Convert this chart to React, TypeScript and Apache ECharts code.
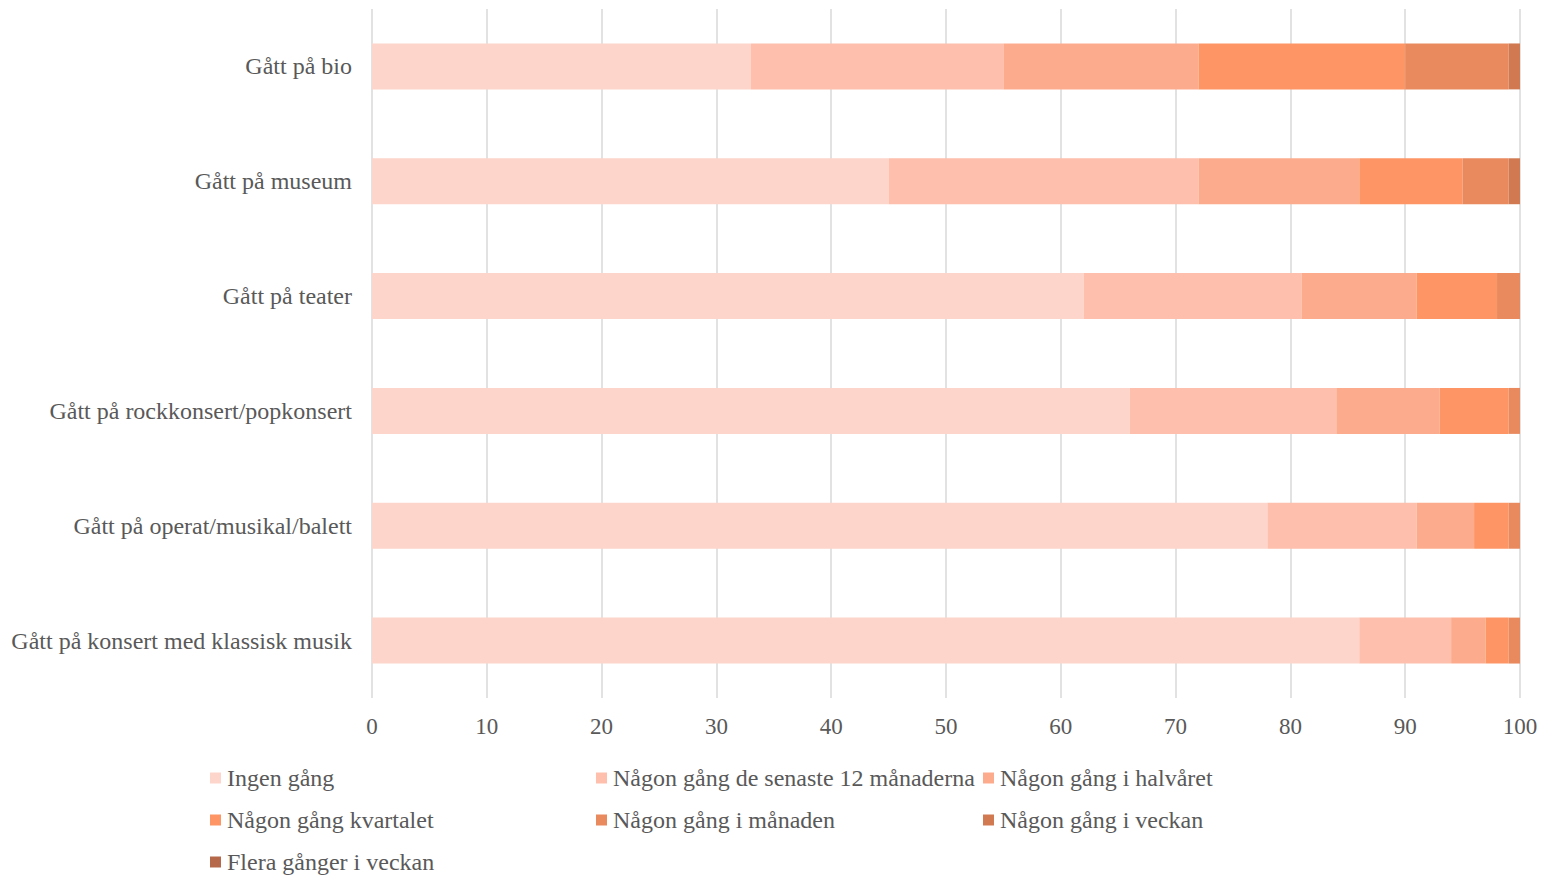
import React, { useEffect, useRef } from "react";
import * as echarts from "echarts";

const categories = [
  "Gått på bio",
  "Gått på museum",
  "Gått på teater",
  "Gått på rockkonsert/popkonsert",
  "Gått på operat/musikal/balett",
  "Gått på konsert med klassisk musik",
];

const seriesNames = [
  "Ingen gång",
  "Någon gång de senaste 12 månaderna",
  "Någon gång i halvåret",
  "Någon gång kvartalet",
  "Någon gång i månaden",
  "Någon gång i veckan",
  "Flera gånger i veckan",
];

const ingen = [33, 45, 62, 66, 78, 86];
const senaste12 = [22, 27, 19, 18, 13, 8];
const halvaret = [17, 14, 10, 9, 5, 3];
const kvartalet = [18, 9, 7, 6, 3, 2];
const manaden = [9, 4, 2, 1, 1, 1];
const veckan = [1, 1, 0, 0, 0, 0];
const flera = [0, 0, 0, 0, 0, 0];

const seriesValues = [ingen, senaste12, halvaret, kvartalet, manaden, veckan, flera];

const colors = ["#FED5CA", "#FEBFAD", "#FDAB8D", "#FD9664", "#E8895E", "#D17A52", "#B5694A"];

const xTicks = [0, 10, 20, 30, 40, 50, 60, 70, 80, 90, 100];

const legendColumns = [
  [seriesNames[0], seriesNames[3], seriesNames[6]],
  [seriesNames[1], seriesNames[4]],
  [seriesNames[2], seriesNames[5]],
];

export default function App() {
  const ref = useRef<HTMLDivElement>(null);
  useEffect(() => {
    if (!ref.current) return;
    const chart = echarts.init(ref.current, undefined, { renderer: "svg" });
    const font = "'Liberation Serif', 'Times New Roman', serif";
    const legendLefts = [210, 596, 983];
    chart.setOption({
      animation: false,
      textStyle: { fontFamily: font },
      grid: { left: 372, right: 27, top: 9, bottom: 177, containLabel: false },
      xAxis: {
        type: "value",
        min: xTicks[0],
        max: xTicks[xTicks.length - 1],
        interval: 10,
        axisLine: { show: false },
        axisTick: { show: false },
        splitLine: { show: true, lineStyle: { color: "#D9D9D9", width: 1.5 } },
        axisLabel: { color: "#595959", fontSize: 23, fontFamily: font, margin: 17 },
      },
      yAxis: {
        type: "category",
        inverse: true,
        data: categories,
        axisLine: { show: false },
        axisTick: { show: false },
        axisLabel: { color: "#595959", fontSize: 24, fontFamily: font, margin: 20 },
      },
      legend: legendColumns.map((col, i) => ({
        data: col,
        orient: "vertical",
        left: legendLefts[i],
        top: 766,
        itemWidth: 11,
        itemHeight: 11,
        itemGap: 18,
        icon: "rect",
        padding: 0,
        textStyle: { color: "#595959", fontSize: 24, fontFamily: font, padding: [0, 0, 0, 1] },
      })),
      series: seriesNames.map((name, i) => ({
        name,
        type: "bar",
        stack: "total",
        barWidth: "40%",
        data: seriesValues[i],
        itemStyle: { color: colors[i] },
        emphasis: { disabled: true },
      })),
    });
    return () => chart.dispose();
  }, []);
  return (
    <div
      ref={ref}
      style={{ position: "fixed", left: 0, top: 0, width: 1547, height: 875, background: "#fff" }}
    />
  );
}
